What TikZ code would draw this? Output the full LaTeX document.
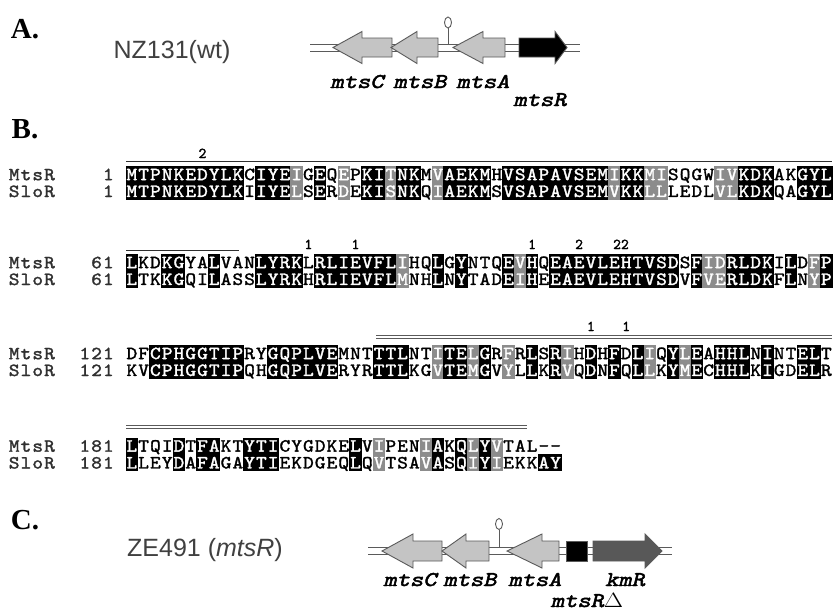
\documentclass[tikz,border=0pt]{standalone}
\usepackage{fontspec}
\usepackage{graphicx}
\newfontfamily\labelsans{Liberation Sans}
\newfontfamily\panelserif{Liberation Serif}
\newfontfamily\seqfont{lmmono10-regular}[Extension=.otf,FakeBold=1.6]
\newfontfamily\genefont{lmmono10-regular}[Extension=.otf,FakeBold=2.2,FakeSlant=0.2]
\definecolor{simgray}{HTML}{8C8C8C}
\definecolor{genefill}{HTML}{C4C4C4}
\definecolor{geneline}{HTML}{5A5A5A}
\definecolor{kmfill}{HTML}{585858}
\definecolor{labgray}{HTML}{303030}
\definecolor{strgray}{HTML}{404040}
\newcommand\alncw{11.77}
\makeatletter
% alignment block: #1 id, #2 y of first row, #3 MtsR, #4 SloR, #5 shading (b black, g gray, n none, s SloR-only black)
\newcommand\alnblock[5]{%
  \def\al@id{#1}\def\al@y{#2}\def\al@c{1}%
  \al@loop#3\@nil#4\@nil#5\@nil}
\def\al@loop#1#2\@nil#3#4\@nil#5#6\@nil{%
  \al@cell{#1}{#3}{#5}%
  \pgfmathtruncatemacro\al@c{\al@c+1}%
  \ifx\relax#2\relax\expandafter\@gobble\else\expandafter\@firstofone\fi
  {\al@loop#2\@nil#4\@nil#6\@nil}}
\def\al@cell#1#2#3{%
  \pgfmathsetmacro\al@x{126+(\al@c-0.5)*\alncw}%
  \def\al@tm{black}\def\al@ts{black}%
  \ifx#3b\fill[black] (\al@x-\alncw/2-0.3,\al@y-8.5) rectangle (\al@x+\alncw/2+0.3,\al@y+25.3);\def\al@tm{white}\def\al@ts{white}\fi
  \ifx#3g\fill[simgray] (\al@x-\alncw/2-0.3,\al@y-8.5) rectangle (\al@x+\alncw/2+0.3,\al@y+25.3);\def\al@tm{white}\def\al@ts{white}\fi
  \ifx#3s\fill[black] (\al@x-\alncw/2-0.3,\al@y+8.4) rectangle (\al@x+\alncw/2+0.3,\al@y+25.3);\def\al@ts{white}\fi
  \node[res,text=\al@tm,name=\al@id m\al@c] at (\al@x,\al@y+5.6) {\scalebox{1.1}[1]{#1}};
  \node[res,text=\al@ts,name=\al@id s\al@c] at (\al@x,\al@y+22.4) {\scalebox{1.1}[1]{#2}};}
% text on the alignment grid: #1 id, #2 start column, #3 baseline y, #4 string
\newcommand\gridtext[4]{%
  \def\gt@id{#1}\def\gt@c{#2}\def\gt@y{#3}\gt@loop#4\@nil}
\def\gt@loop#1#2\@nil{%
  \pgfmathsetmacro\gt@x{126+(\gt@c-0.5)*\alncw}%
  \node[res,text=labgray,name=\gt@id\gt@c] at (\gt@x,\gt@y) {\scalebox{1.1}[1]{#1}};
  \pgfmathtruncatemacro\gt@c{\gt@c+1}%
  \ifx\relax#2\relax\expandafter\@gobble\else\expandafter\@firstofone\fi
  {\gt@loop#2\@nil}}
\makeatother
% gene arrow: tip, head base, other end, y centre, fill, head half height, body half height
\newcommand\genel[7]{\draw[genestroke,fill=#5] (#1,#4) -- (#2,#4-#6) -- (#2,#4-#7) -- (#3,#4-#7) -- (#3,#4+#7) -- (#2,#4+#7) -- (#2,#4+#6) -- cycle;}
\newcommand\gener[7]{\draw[genestroke,fill=#5] (#1,#4) -- (#2,#4-#6) -- (#2,#4-#7) -- (#3,#4-#7) -- (#3,#4+#7) -- (#2,#4+#7) -- (#2,#4+#6) -- cycle;}
\begin{document}
\begin{tikzpicture}[x=1pt,y=-1pt,
  res/.style={font=\seqfont\fontsize{18.5}{18.5}\selectfont,anchor=base,inner sep=0pt},
  ann/.style={font=\seqfont\fontsize{15}{15}\selectfont,anchor=base,inner sep=0pt},
  panel/.style={font=\panelserif\bfseries\fontsize{29}{29}\selectfont,inner sep=0pt},
  strain/.style={font=\labelsans\fontsize{25}{25}\selectfont,text=strgray,inner sep=0pt},
  glab/.style={font=\genefont\fontsize{21}{21}\selectfont,anchor=base,inner sep=0pt},
  genestroke/.style={draw=geneline,line width=0.9pt,line join=miter},
  dbl/.style={draw=geneline,line width=0.9pt},
  topline/.style={draw=labgray,line width=1.3pt},
  dblline/.style={draw=geneline,line width=1pt}]
\useasboundingbox (0,0) rectangle (836,611);
\fill[white] (0,0) rectangle (836,611);
% panel labels
\node[panel] (pA) at (25,29) {A.};
\node[panel] (pB) at (25,129) {B.};
\node[panel] (pC) at (25,520) {C.};
% ---------- A
\node[strain] (sA) at (172,52) {NZ131(wt)};
\draw[dbl] (310,44) -- (580,44) (310,51.5) -- (580,51.5);
\draw[dbl] (448,44) -- (448,28);
\draw[dbl,fill=white] (448,22.5) ellipse [x radius=3.5, y radius=5.5];
\genel{333}{362}{392}{47.5}{genefill}{16}{9.5}
\genel{391}{417}{438}{47.5}{genefill}{16}{9.5}
\genel{453}{483}{505}{47.5}{genefill}{16}{9.5}
\gener{567}{555}{519}{47.5}{black}{16}{9.5}
\node[glab] (gAc) at (357,88) {\scalebox{1.2}[1]{mtsC}};
\node[glab] (gAb) at (420,88) {\scalebox{1.2}[1]{mtsB}};
\node[glab] (gAa) at (483,88) {\scalebox{1.2}[1]{mtsA}};
\node[glab] (gAr) at (540,106) {\scalebox{1.2}[1]{mtsR}};
% ---------- B
\draw[topline] (126,161.5) -- (832,161.5);
\node[ann] (n2a) at (202.5,158) {2};
\gridtext{la}{-9}{180.2}{MtsR}
\gridtext{lb}{-9}{197}{SloR}
\gridtext{na}{-1}{180.2}{1}
\gridtext{nb}{-1}{197}{1}
\alnblock{A}{174.5}{MTPNKEDYLKCIYEIGEQEPKITNKMVAEKMHVSAPAVSEMIKKMISQGWIVKDKAKGYL}{MTPNKEDYLKIIYELSERDEKISNKQIAEKMSVSAPAVSEMVKKLLLEDLVLKDKQAGYL}{bbbbbbbbbbnbbbgnbngnbbgbbngbbbbnbbbbbbbbbgbbggnnnnggbbbnnbbb}
%
\draw[topline] (126,250.5) -- (239,250.5);
\node[ann] (n1a) at (308.4,249) {1};
\node[ann] (n1b) at (355.5,249) {1};
\node[ann] (n1c) at (532.1,249) {1};
\node[ann] (n2b) at (579.1,249) {2};
\node[ann] (n22) at (621,249) {22};
\gridtext{lc}{-9}{268.2}{MtsR}
\gridtext{ld}{-9}{285}{SloR}
\gridtext{nc}{-2}{268.2}{61}
\gridtext{nd}{-2}{285}{61}
\alnblock{B}{262.5}{LKDKGYALVANLYRKLRLIEVFLIHQLGYNTQEVHQEAEVLEHTVSDSFIDRLDKILDFP}{LTKKGQILASSLYRKHRLIEVFLMNHLNYTADEIHEEAEVLEHTVSDVFVERLDKFLNYP}{bnnbbnnbnnnbbbbnbbbbbbbgnnbnbnnnbgbnbbbbbbbbbbbnbggbbbbnbngb}
%
\draw[dblline] (376,335) -- (832,335) (376,338.5) -- (832,338.5);
\node[ann] (n1d) at (590.9,331) {1};
\node[ann] (n1e) at (626.2,331) {1};
\gridtext{le}{-9}{359.2}{MtsR}
\gridtext{lf}{-9}{376}{SloR}
\gridtext{ne}{-3}{359.2}{121}
\gridtext{nf}{-3}{376}{121}
\alnblock{C}{353.5}{DFCPHGGTIPRYGQPLVEMNTTTLNTITELGRFRLSRIHDHFDLIQYLEAHHLNINTELT}{KVCPHGGTIPQHGQPLVERYRTTLKGVTEMGVYLLKRVQDNFQLLKYMECHHLKIGDELR}{nnbbbbbbbbnnbbbbbbnnnbbbnngbbgbngnbnbgnbnbnbgnbgbnbbbnbnnbbn}
%
\draw[dblline] (126,425) -- (527,425) (126,428.5) -- (527,428.5);
\gridtext{lg}{-9}{451.7}{MtsR}
\gridtext{lh}{-9}{468.5}{SloR}
\gridtext{ng}{-3}{451.7}{181}
\gridtext{nh}{-3}{468.5}{181}
\alnblock{D}{446}{LTQIDTFAKTYTICYGDKELVIPENIAKQLYVTAL--}{LLEYDAFAGAYTIEKDGEQLQVTSAVASQIYIEKKAY}{bnnnbnbbnnbbbnnnnnnbngnnngbnbgbgnnnss}
% ---------- C
\node[strain] (sC) at (205,550) {ZE491 (\textit{mtsR})};
\draw[dbl] (368,547.5) -- (672,547.5) (368,554.5) -- (672,554.5);
\draw[dbl] (499,547.5) -- (499,529.5);
\draw[dbl,fill=white] (499,524) ellipse [x radius=3.5, y radius=5.5];
\genel{382}{413}{442}{551}{genefill}{17}{10}
\genel{442}{466}{489}{551}{genefill}{17}{10}
\genel{507}{542}{559}{551}{genefill}{17}{10}
\draw[genestroke,fill=black] (566,541) rectangle (587,561.5);
\gener{662}{645}{593}{551}{kmfill}{17}{10}
\node[glab] (gCc) at (410,586) {\scalebox{1.2}[1]{mtsC}};
\node[glab] (gCb) at (470,586) {\scalebox{1.2}[1]{mtsB}};
\node[glab] (gCa) at (535,586) {\scalebox{1.2}[1]{mtsA}};
\node[glab] (gCk) at (625,586) {\scalebox{1.2}[1]{kmR}};
\node[glab] (gCd) at (587,607) {\scalebox{1.2}[1]{mtsR$\Delta$}};
\end{tikzpicture}
\end{document}
